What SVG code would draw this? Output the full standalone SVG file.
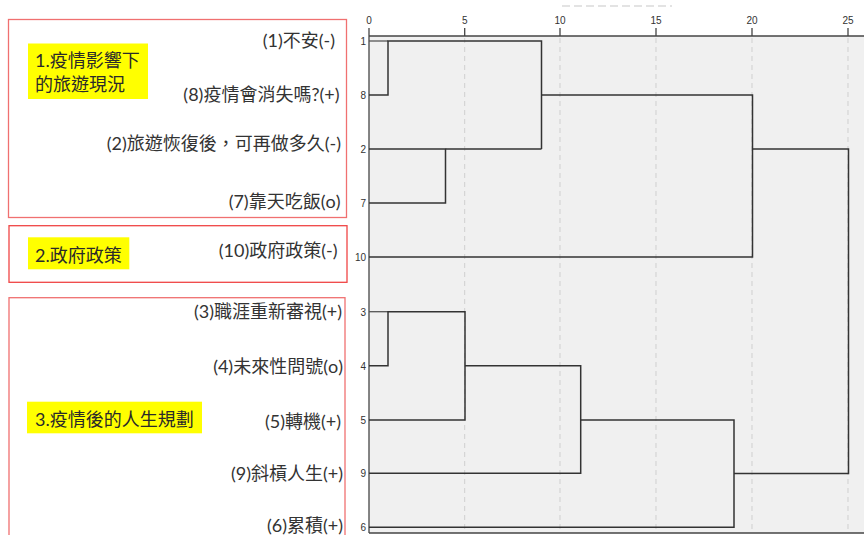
<svg xmlns="http://www.w3.org/2000/svg" width="864" height="535" viewBox="0 0 864 535">
<style>
.box{fill:none;stroke:#f07070;stroke-width:1.3}
.box2{fill:none;stroke:#f04545;stroke-width:1.3}
.hl{fill:#ffff00}
.ttl{font-family:"Lato","Noto Sans CJK TC",sans-serif;font-size:18px;fill:#2a2a2a}
.lbl{font-family:"Lato","Noto Sans CJK TC",sans-serif;font-size:18px;fill:#333;text-anchor:end}
.num{font-family:"Liberation Sans",Arial,sans-serif;font-size:10px;fill:#333}
.grid{stroke:#cfcfcf;stroke-width:1;stroke-dasharray:5,4}
.ln{fill:none;stroke:#333;stroke-width:1.5}
.leaf{fill:none;stroke:#555;stroke-width:1.3}
</style>
<rect width="864" height="535" fill="#ffffff"/>
<g id="plot">
  <rect x="369" y="36" width="495" height="497" fill="#f0f0f0"/>
  <line x1="562" y1="6" x2="672" y2="6" stroke="#c8c8c8" stroke-width="1.2" stroke-dasharray="8,4"/>
  <g class="grid">
    <line x1="464.7" y1="38" x2="464.7" y2="532"/>
    <line x1="560" y1="38" x2="560" y2="532"/>
    <line x1="656" y1="38" x2="656" y2="532"/>
    <line x1="752" y1="38" x2="752" y2="532"/>
    <line x1="848" y1="38" x2="848" y2="532"/>
  </g>
  <g stroke="#444" stroke-width="1.3">
    <line x1="369" y1="36" x2="864" y2="36"/>
    <line x1="369" y1="28" x2="369" y2="533"/>
    <line x1="369" y1="533" x2="864" y2="533"/>
    <line x1="464.7" y1="28" x2="464.7" y2="36"/>
    <line x1="560" y1="28" x2="560" y2="36"/>
    <line x1="656" y1="28" x2="656" y2="36"/>
    <line x1="752" y1="28" x2="752" y2="36"/>
    <line x1="848" y1="28" x2="848" y2="36"/>
  </g>
  <g class="num" text-anchor="middle">
    <text x="369" y="24">0</text>
    <text x="464.7" y="24">5</text>
    <text x="560" y="24">10</text>
    <text x="656" y="24">15</text>
    <text x="752" y="24">20</text>
    <text x="848" y="24">25</text>
  </g>
  <g class="num" text-anchor="end">
    <text x="366" y="45">1</text>
    <text x="366" y="99">8</text>
    <text x="366" y="153">2</text>
    <text x="366" y="207">7</text>
    <text x="366" y="261">10</text>
    <text x="366" y="315.5">3</text>
    <text x="366" y="369.5">4</text>
    <text x="366" y="424">5</text>
    <text x="366" y="477">9</text>
    <text x="366" y="531">6</text>
  </g>
</g>
<g id="connectors">
  <path class="leaf" d="M369,41 H388"/>
  <path class="ln" d="M369,95 H388 V41 H541.5 V149"/>
  <path class="ln" d="M369,149 H445.5 V203 H369"/>
  <path class="ln" d="M445.5,149 H541.5"/>
  <path class="ln" d="M541.5,95 H752.5 V257 H369"/>
  <path class="ln" d="M752.5,149 H848.5 V473.5 H734"/>
  <path class="leaf" d="M369,311.7 H388"/>
  <path class="ln" d="M369,365.7 H388 V311.7 H465 V420 H369"/>
  <path class="ln" d="M465,365.7 H580.7 V473.3 H369"/>
  <path class="ln" d="M580.7,420 H734 V527.3 H369"/>
</g>
<g id="group1">
  <rect class="box" x="8.5" y="19.5" width="338" height="198"/>
  <rect class="hl" x="28" y="43.5" width="120" height="55.5"/>
  <text class="ttl" x="35" y="67">1.疫情影響下</text>
  <text class="ttl" x="35" y="91">的旅遊現況</text>
</g>
<g id="item1"><text class="lbl" x="335" y="47">(1)不安(-)</text></g>
<g id="item8"><text class="lbl" x="339.5" y="101">(8)疫情會消失嗎?(+)</text></g>
<g id="item2"><text class="lbl" x="341" y="150">(2)旅遊恢復後，可再做多久(-)</text></g>
<g id="item7"><text class="lbl" x="340.5" y="208">(7)靠天吃飯(o)</text></g>
<g id="group2">
  <rect class="box2" x="9" y="225.7" width="338" height="56.6"/>
  <rect class="hl" x="28" y="237.3" width="101.3" height="32"/>
  <text class="ttl" x="35" y="261.5">2.政府政策</text>
</g>
<g id="item10"><text class="lbl" x="337.5" y="257">(10)政府政策(-)</text></g>
<g id="group3">
  <rect class="box" x="9" y="297.7" width="336" height="250"/>
  <rect class="hl" x="27" y="401.7" width="175" height="31.6"/>
  <text class="ttl" x="35" y="425.5">3.疫情後的人生規劃</text>
</g>
<g id="item3"><text class="lbl" x="342" y="318">(3)職涯重新審視(+)</text></g>
<g id="item4"><text class="lbl" x="343" y="373">(4)未來性問號(o)</text></g>
<g id="item5"><text class="lbl" x="341" y="428">(5)轉機(+)</text></g>
<g id="item9"><text class="lbl" x="343" y="480">(9)斜槓人生(+)</text></g>
<g id="item6"><text class="lbl" x="343" y="532">(6)累積(+)</text></g>
</svg>
